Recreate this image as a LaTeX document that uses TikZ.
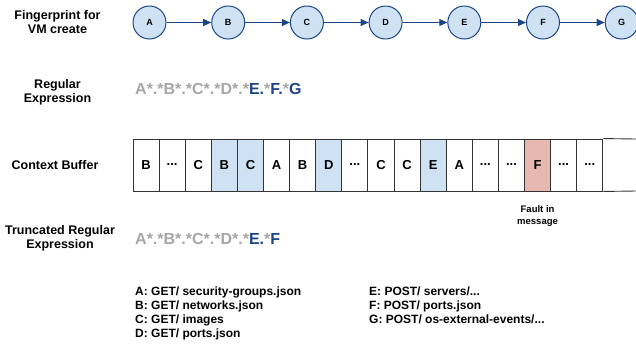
\documentclass[tikz,border=0pt]{standalone}
\usepackage{fontspec}
\setmainfont{Liberation Sans}
\usetikzlibrary{arrows.meta}
\definecolor{nodefill}{HTML}{CFE2F3}
\definecolor{navy}{HTML}{1C4587}
\definecolor{faultfill}{HTML}{E6B8AF}
\definecolor{regray}{HTML}{A6A6A6}
\definecolor{cellline}{HTML}{333333}
\newcommand\celldots{...}
\begin{document}
\begin{tikzpicture}[x=1pt,y=-1pt,
  fp/.style={circle, draw=navy, fill=nodefill, line width=1pt, minimum size=33pt, inner sep=0pt, font=\bfseries\fontsize{9}{10}\selectfont},
  arr/.style={-{Triangle[length=8pt,width=7pt]}, draw=navy, line width=1pt},
  lbl/.style={align=center, inner sep=0pt, font=\bfseries\fontsize{12.5}{14}\selectfont},
  cellbox/.style={draw=cellline, line width=0.9pt, minimum width=26.1pt, minimum height=52pt, inner sep=0pt, font=\bfseries\fontsize{13}{15}\selectfont},
  regex/.style={anchor=base west, inner sep=0pt, font=\bfseries\fontsize{16}{18}\selectfont},
  legend/.style={anchor=base west, inner sep=0pt, font=\bfseries\fontsize{12}{14}\selectfont}
]
\useasboundingbox (0,0) rectangle (636,346);

% fingerprint chain
\foreach \n [count=\i from 0] in {A,B,C,D,E,F,G}
  \node[fp] (\n) at ({149.5+78.7*\i},22.5) {\n};
\foreach \a/\b in {A/B,B/C,C/D,D/E,E/F,F/G}
  \draw[arr] (\a) -- (\b);

% row labels
\node[lbl] (l1) at (57.5,22.5) {Fingerprint for\\VM create};
\node[lbl] (l2) at (57.5,92.5) {Regular\\Expression};
\node[lbl] (l3) at (55,165) {Context Buffer};
\node[lbl] (l4) at (60,238.5) {Truncated Regular\\Expression};

% regular expressions
\node[regex] (re) at (135,94) {\textcolor{regray}{A*.*B*.*C*.*D*.*}\textcolor{navy}{E.}\textcolor{regray}{*}\textcolor{navy}{F.}\textcolor{regray}{*}\textcolor{navy}{G}};
\node[regex] (tre) at (135,244.5) {\textcolor{regray}{A*.*B*.*C*.*D*.*}\textcolor{navy}{E.}\textcolor{regray}{*}\textcolor{navy}{F}};

% context buffer
\foreach \t/\f [count=\i from 0] in {B/white,\celldots/white,C/white,B/nodefill,C/nodefill,A/white,B/white,D/nodefill,\celldots/white,C/white,C/white,E/nodefill,A/white,\celldots/white,\celldots/white,F/faultfill,\celldots/white,\celldots/white}
  \node[cellbox, fill=\f] (c\i) at ({133+26.1*(\i+0.5)},165) {\t};
\coordinate (openT) at (636,139);
\coordinate (openB) at (636,191);
\draw[draw=cellline, line width=0.9pt] (c17.north east) -- (openT);
\draw[draw=cellline, line width=0.9pt] (c17.south east) -- (openB);

\node[align=center, inner sep=0pt, font=\bfseries\fontsize{9.5}{12}\selectfont] (fault) at (c15.center |- 0,216) {Fault in\\message};

% legend
\node[legend] (la) at (135,295.3) {A: GET/ security-groups.json};
\node[legend] (lb) at (135,309.3) {B: GET/ networks.json};
\node[legend] (lc) at (135,323.3) {C: GET/ images};
\node[legend] (ld) at (135,337.3) {D: GET/ ports.json};
\node[legend] (le) at (369,295.3) {E: POST/ servers/...};
\node[legend] (lf) at (369,309.3) {F: POST/ ports.json};
\node[legend] (lg) at (369,323.3) {G: POST/ os-external-events/...};
\end{tikzpicture}
\end{document}
